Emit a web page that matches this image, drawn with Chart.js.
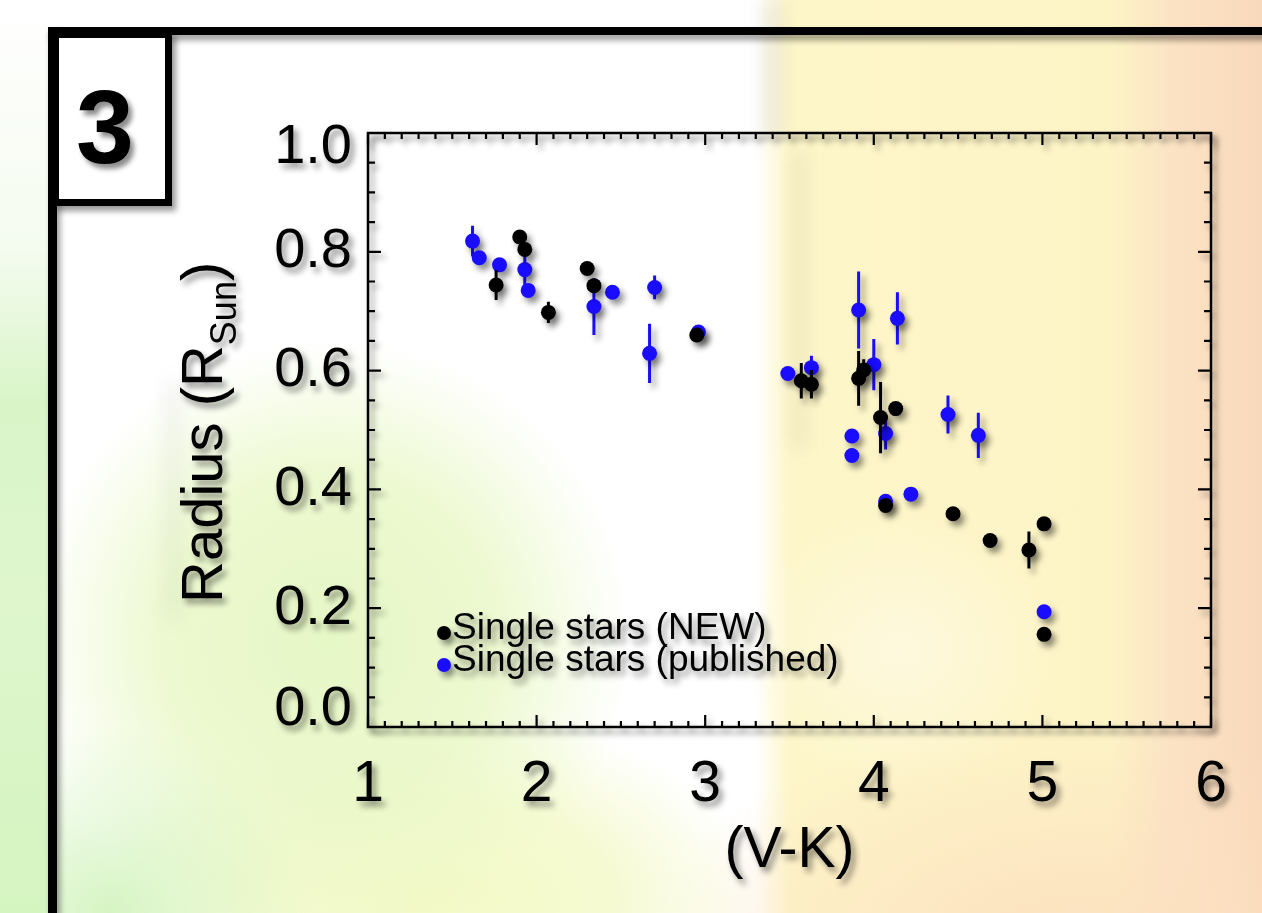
<!DOCTYPE html>
<html>
<head>
<meta charset="utf-8">
<script src="https://cdn.jsdelivr.net/npm/chart.js@4.4.1/dist/chart.umd.min.js"></script>
<style>
html, body { margin: 0; padding: 0; width: 1262px; height: 913px; overflow: hidden; background: #fff; }
#bg {
	position: absolute; left: 0; top: 0; width: 1262px; height: 913px;
	background:
		radial-gradient(ellipse 200px 190px at 110px 913px, rgba(212,244,192,0.95), rgba(212,244,192,0) 100%),
		radial-gradient(ellipse 300px 300px at 330px 640px, rgba(230,247,198,1) 0%, rgba(234,248,200,0.85) 55%, rgba(238,249,205,0) 100%),
		radial-gradient(ellipse 330px 190px at 430px 900px, rgba(243,249,198,1) 0%, rgba(243,249,198,0.8) 55%, rgba(243,249,198,0) 100%),
		radial-gradient(ellipse 440px 230px at 1080px 950px, rgba(252,224,192,1), rgba(252,224,192,0)),
		radial-gradient(ellipse 160px 140px at 900px 650px, rgba(254,250,228,0.8), rgba(254,250,228,0)),
		linear-gradient(to right, #fff 0px, #fff 755px, #fdf6c9 790px, #fdf4c6 1110px, #fbe3c4 1170px, #f9d9bb 1262px);
}
#leftbg {
	position: absolute; left: 0; top: 0; width: 48px; height: 913px;
	background: linear-gradient(to bottom, #fff 0px, #f4fbef 250px, #d9f5c8 400px, #dff6cd 600px, #d4f4c0 913px);
}
.smudge { position: absolute; background: rgba(120,120,120,0.12); filter: blur(9px); }
#c { position: absolute; left: 0; top: 0; }
.line { position: absolute; background: #000; box-shadow: 3px 5px 6px rgba(0,0,0,0.4); }
#topline { left: 48px; top: 27px; width: 1300px; height: 8px; }
#leftline { left: 48px; top: 27px; width: 9px; height: 1000px; }
#box {
	position: absolute; left: 52px; top: 31px; width: 106px; height: 161px;
	border: 7px solid #000; background: #fff; box-shadow: 4px 5px 6px rgba(0,0,0,0.4);
	font: bold 104px "Liberation Sans", Arial, Helvetica, sans-serif; line-height: 104px;
	text-align: center; color: #000;
}
#box span { position: relative; top: 37px; left: -7px; text-shadow: 4px 5px 5px rgba(0,0,0,0.45); }
</style>
</head>
<body>
<div id="bg"></div>
<div id="leftbg"></div>
<div class="smudge" style="left:762px; top:0px; width:22px; height:140px;"></div>
<div class="smudge" style="left:790px; top:150px; width:18px; height:300px; background: rgba(120,120,120,0.08);"></div>
<div class="smudge" style="left:165px; top:380px; width:16px; height:240px; background: rgba(120,120,120,0.08);"></div>
<canvas id="c" width="1262" height="913"></canvas>
<div class="line" id="topline"></div>
<div class="line" id="leftline"></div>
<div id="box"><span>3</span></div>
<script>
const FONT = '"Liberation Sans", Arial, Helvetica, sans-serif';

// Single stars (NEW)
const newVK  = [1.76, 1.90, 1.93, 2.07, 2.30, 2.34, 2.95, 3.57, 3.63, 3.91, 3.94, 4.04, 4.13, 4.07, 4.47, 4.69, 4.92, 5.01, 5.01];
const newR   = [0.744, 0.825, 0.804, 0.698, 0.772, 0.743, 0.660, 0.583, 0.577, 0.587, 0.601, 0.521, 0.536, 0.373, 0.359, 0.314, 0.298, 0.342, 0.156];
const newErr = [0.025, 0, 0, 0.018, 0, 0, 0, 0.030, 0.024, 0.046, 0.018, 0.060, 0, 0, 0, 0, 0.031, 0, 0];

// Single stars (published)
const pubVK  = [1.62, 1.66, 1.78, 1.93, 1.95, 2.34, 2.45, 2.70, 2.67, 2.96, 3.49, 3.63, 3.91, 4.00, 4.14, 3.87, 3.87, 4.07, 4.44, 4.62, 4.07, 4.22, 5.01];
const pubR   = [0.818, 0.790, 0.778, 0.770, 0.735, 0.708, 0.732, 0.740, 0.629, 0.665, 0.595, 0.605, 0.702, 0.610, 0.688, 0.490, 0.457, 0.494, 0.526, 0.491, 0.380, 0.392, 0.194];
const pubErr = [0.026, 0, 0, 0.027, 0, 0.048, 0, 0.020, 0.050, 0, 0, 0.020, 0.065, 0.043, 0.044, 0, 0, 0.027, 0.032, 0.038, 0, 0, 0];

const seriesLabels = ['Single stars (NEW)', 'Single stars (published)'];
const seriesColors = ['#000000', '#1a0cff'];
const xTitle = '(V-K)';
const yTitle = ['Radius (R', 'Sun', ')'];

const pts = (xs, ys) => xs.map((x, i) => ({ x: x, y: ys[i] }));
const errs = [newErr, pubErr];

const shadow = (ctx) => {
	ctx.shadowColor = 'rgba(0,0,0,0.45)';
	ctx.shadowBlur = 6;
	ctx.shadowOffsetX = 4;
	ctx.shadowOffsetY = 5;
};

const decor = {
	id: 'decor',
	beforeDraw(chart) {
		// end labels of the y axis sit inside the frame, like the original
		const items = chart.scales.y.getLabelItems(chart.chartArea);
		if (!items._moved && items.length) {
			items[0].options.translation[1] -= 17;
			items[items.length - 1].options.translation[1] += 15;
			items._moved = true;
		}
		chart.ctx.save();
		shadow(chart.ctx);
	},
	beforeDatasetsDraw(chart) {
		const ctx = chart.ctx, a = chart.chartArea, xs = chart.scales.x, ys = chart.scales.y;
		ctx.save();
		ctx.strokeStyle = '#000';
		ctx.lineWidth = 2.5;
		ctx.strokeRect(a.left, a.top, a.right - a.left, a.bottom - a.top);
		ctx.lineWidth = 2.2;
		ctx.beginPath();
		for (let k = 0; k <= 50; k++) {
			const px = xs.getPixelForValue(1 + k * 0.1);
			const len = k % 10 === 0 ? 12 : 6;
			ctx.moveTo(px, a.bottom); ctx.lineTo(px, a.bottom - len);
			ctx.moveTo(px, a.top); ctx.lineTo(px, a.top + len);
		}
		for (let k = 0; k <= 20; k++) {
			const py = ys.getPixelForValue(k * 0.05);
			const len = k % 4 === 0 ? 13 : 7;
			ctx.moveTo(a.left, py); ctx.lineTo(a.left + len, py);
			ctx.moveTo(a.right, py); ctx.lineTo(a.right - len, py);
		}
		ctx.stroke();
		ctx.restore();
	},
	beforeDatasetDraw(chart, args) {
		const ctx = chart.ctx, xs = chart.scales.x, ys = chart.scales.y;
		const ds = chart.data.datasets[args.index];
		const e = errs[args.index];
		ctx.save();
		ctx.strokeStyle = ds.backgroundColor;
		ctx.lineWidth = 3;
		ctx.beginPath();
		ds.data.forEach((p, i) => {
			if (!e[i]) return;
			const px = xs.getPixelForValue(p.x);
			ctx.moveTo(px, ys.getPixelForValue(p.y - e[i]));
			ctx.lineTo(px, ys.getPixelForValue(p.y + e[i]));
		});
		ctx.stroke();
		ctx.restore();
	},
	afterDraw(chart) {
		const ctx = chart.ctx, a = chart.chartArea;
		ctx.fillStyle = '#000';
		ctx.textAlign = 'left';
		ctx.textBaseline = 'alphabetic';

		// y title with subscript
		ctx.save();
		ctx.translate(222, 603);
		ctx.rotate(-Math.PI / 2);
		ctx.font = '58px ' + FONT;
		ctx.fillText(yTitle[0], 0, 0);
		let w = ctx.measureText(yTitle[0]).width;
		ctx.font = '36px ' + FONT;
		ctx.fillText(yTitle[1], w, 14);
		w += ctx.measureText(yTitle[1]).width;
		ctx.font = '58px ' + FONT;
		ctx.fillText(yTitle[2], w, 0);
		ctx.restore();

		// legend
		chart.data.datasets.forEach((ds, i) => {
			const cy = a.bottom - 94 + i * 32;
			const cx = a.left + 76;
			ctx.beginPath();
			ctx.arc(cx, cy, 7, 0, Math.PI * 2);
			ctx.fillStyle = ds.backgroundColor;
			ctx.fill();
			ctx.fillStyle = '#000';
			ctx.font = '37px ' + FONT;
			ctx.fillText(ds.label, cx + 8, cy + 6);
		});
		chart.ctx.restore();
	}
};

new Chart(document.getElementById('c'), {
	type: 'scatter',
	data: {
		datasets: [
			{ label: seriesLabels[0], data: pts(newVK, newR), backgroundColor: seriesColors[0], borderWidth: 0, pointRadius: 7.5 },
			{ label: seriesLabels[1], data: pts(pubVK, pubR), backgroundColor: seriesColors[1], borderWidth: 0, pointRadius: 7.5 }
		]
	},
	options: {
		responsive: false,
		animation: false,
		layout: { padding: { top: 133, right: 51, left: 0, bottom: 0 } },
		plugins: { legend: { display: false }, tooltip: { enabled: false } },
		scales: {
			x: {
				type: 'linear', min: 1, max: 6,
				afterFit: (s) => { s.height = 186; },
				grid: { display: false, drawTicks: false },
				border: { display: false },
				ticks: { stepSize: 1, padding: 24, color: '#000', font: { family: FONT, size: 57 } },
				title: { display: true, text: xTitle, color: '#000', font: { family: FONT, size: 57 }, padding: { top: 0, bottom: 28 } }
			},
			y: {
				min: 0, max: 1,
				afterFit: (s) => { s.width = 368; },
				grid: { display: false, drawTicks: false },
				border: { display: false },
				ticks: { stepSize: 0.2, padding: 16, color: '#000', font: { family: FONT, size: 56 }, callback: (v) => v.toFixed(1) }
			}
		}
	},
	plugins: [decor]
});
</script>
</body>
</html>
